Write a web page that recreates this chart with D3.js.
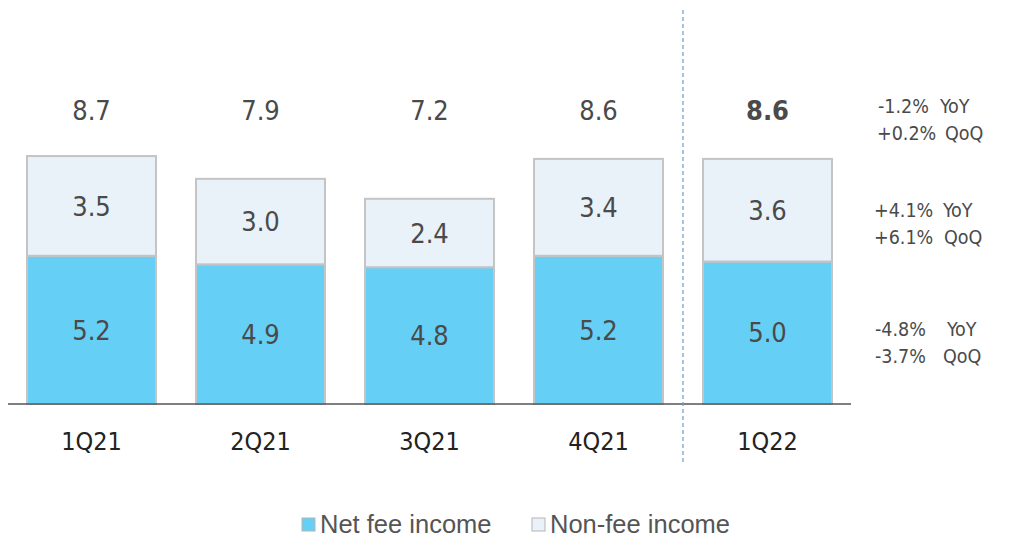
<!DOCTYPE html>
<html>
<head>
<meta charset="utf-8">
<script src="https://cdn.jsdelivr.net/npm/d3@7"></script>
<style>
  html, body { margin: 0; padding: 0; background: #fff; }
  svg { display: block; }
</style>
</head>
<body>
<svg id="chart"></svg>
<script>
const quarters = ["1Q21", "2Q21", "3Q21", "4Q21", "1Q22"]
const netFee = [5.2, 4.9, 4.8, 5.2, 5.0]
const nonFee = [3.5, 3.0, 2.4, 3.4, 3.6]
const totals = ["8.7", "7.9", "7.2", "8.6", "8.6"]
const seriesNames = ["Net fee income", "Non-fee income"]
const notePct = [["-1.2%", "+0.2%"], ["+4.1%", "+6.1%"], ["-4.8%", "-3.7%"]]
const noteTags = ["YoY", "QoQ"]

const width = 1010, height = 540
const colors = {netFee: "#66cff5", nonFee: "#e9f1f9", stroke: "#c4c4c4"}
const font = "'DejaVu Sans Condensed', 'DejaVu Sans', sans-serif"
const ink = "#4a4a4a"

const svg = d3.select("#chart").attr("width", width).attr("height", height)

const x = d3.scaleBand().domain(quarters).range([7, 852]).paddingInner(0.225).paddingOuter(0.1125)
const y = d3.scaleLinear().domain([0, 10]).range([404, 119])

const rows = quarters.map((q, i) => ({q, netFee: netFee[i], nonFee: nonFee[i], total: totals[i]}))
const stack = d3.stack().keys(["netFee", "nonFee"])(rows)

const g = svg.append("g")

stack.forEach((layer) => {
  const lg = g.append("g")
  lg.selectAll("rect")
    .data(layer)
    .join("rect")
    .attr("x", (d) => x(d.data.q) + 1)
    .attr("width", x.bandwidth() - 2)
    .attr("y", (d) => y(d[1]))
    .attr("height", (d) => y(d[0]) - y(d[1]))
    .attr("fill", colors[layer.key])
    .attr("stroke", colors.stroke)
    .attr("stroke-width", 2)
  lg.selectAll("text")
    .data(layer)
    .join("text")
    .attr("x", (d) => x(d.data.q) + x.bandwidth() / 2)
    .attr("y", (d) => (y(d[0]) + y(d[1])) / 2)
    .attr("dy", "0.36em")
    .attr("text-anchor", "middle")
    .attr("font-family", font)
    .attr("font-size", 27)
    .attr("fill", ink)
    .text((d) => d.data[layer.key].toFixed(1))
})

// totals above bars
g.append("g")
  .selectAll("text")
  .data(rows)
  .join("text")
  .attr("x", (d) => x(d.q) + x.bandwidth() / 2)
  .attr("y", y(8.7) - 46)
  .attr("dy", "0.36em")
  .attr("text-anchor", "middle")
  .attr("font-family", font)
  .attr("font-size", 27)
  .attr("font-weight", (d, i) => (i === rows.length - 1 ? "bold" : "normal"))
  .attr("fill", ink)
  .text((d) => d.total)

// baseline
g.append("line")
  .attr("x1", 8).attr("x2", 851)
  .attr("y1", y(0)).attr("y2", y(0))
  .attr("stroke", "#555").attr("stroke-width", 1.5)

// category labels
g.append("g")
  .selectAll("text")
  .data(quarters)
  .join("text")
  .attr("x", (d) => x(d) + x.bandwidth() / 2)
  .attr("y", 441)
  .attr("dy", "0.36em")
  .attr("text-anchor", "middle")
  .attr("font-family", font)
  .attr("font-size", 25)
  .attr("fill", "#222")
  .text((d) => d)

// dashed separator between 4Q21 and 1Q22
const sepX = (x("4Q21") + x.bandwidth() + x("1Q22")) / 2
g.append("line")
  .attr("x1", sepX).attr("x2", sepX)
  .attr("y1", 10).attr("y2", 462)
  .attr("stroke", "#6a9bd1").attr("stroke-width", 1.2)
  .attr("stroke-dasharray", "4,3")

// YoY / QoQ notes, one block per level (total, non-fee, net fee)
const noteLayout = [
  {cy: 119.5, pctX: [878, 877], tagX: [940, 945]},
  {cy: 223.5, pctX: [874, 874], tagX: [943, 944]},
  {cy: 342, pctX: [875, 875], tagX: [947, 943]},
]
const notes = g.append("g")
  .attr("font-family", font)
  .attr("font-size", 19.5)
  .attr("fill", ink)
notePct.forEach((pcts, i) => {
  const L = noteLayout[i]
  noteTags.forEach((tag, j) => {
    const ty = L.cy + (j === 0 ? -13.5 : 13.5)
    notes.append("text").attr("x", L.pctX[j]).attr("y", ty).attr("dy", "0.36em").text(pcts[j])
    notes.append("text").attr("x", L.tagX[j]).attr("y", ty).attr("dy", "0.36em").text(tag)
  })
})

// legend
const legendItems = [
  {name: seriesNames[0], fill: colors.netFee, x: 302},
  {name: seriesNames[1], fill: colors.nonFee, x: 532},
]
const legend = svg.append("g")
legendItems.forEach((it) => {
  legend.append("rect")
    .attr("x", it.x).attr("y", 518).attr("width", 13).attr("height", 13)
    .attr("fill", it.fill).attr("stroke", "#b5b5b5").attr("stroke-width", 1)
  legend.append("text")
    .attr("x", it.x + 18).attr("y", 524.5).attr("dy", "0.35em")
    .attr("font-family", "'Liberation Sans', Arial, sans-serif")
    .attr("font-size", 25.5).attr("fill", "#555")
    .text(it.name)
})
</script>
</body>
</html>
